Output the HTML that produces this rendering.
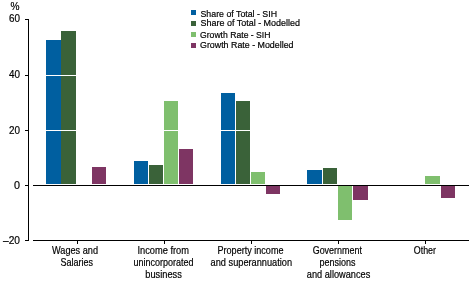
<!DOCTYPE html>
<html><head><meta charset="utf-8">
<style>
html,body{margin:0;padding:0;background:#fff;width:472px;height:283px;overflow:hidden}
svg{position:absolute;left:0;top:0;display:block;will-change:transform}
text{font-family:"Liberation Sans",sans-serif;fill:#000;stroke:#000;stroke-width:0.2}
</style></head><body>
<svg width="472" height="283" viewBox="0 0 472 283">
<g shape-rendering="crispEdges">
<!-- bars -->
<g fill="#005FA0">
<rect x="46" y="40" width="15" height="144"/>
<rect x="134" y="161" width="14" height="23"/>
<rect x="221" y="93" width="14" height="91"/>
<rect x="307" y="170" width="15" height="14"/>
</g>
<g fill="#3A6239">
<rect x="61" y="31" width="15" height="153"/>
<rect x="149" y="165" width="14" height="19"/>
<rect x="236" y="101" width="14" height="83"/>
<rect x="323" y="168" width="14" height="16"/>
</g>
<g fill="#7FBF6E">
<rect x="164" y="101" width="14" height="83"/>
<rect x="251" y="172" width="14" height="12"/>
<rect x="338" y="186" width="14" height="34"/>
<rect x="425" y="176" width="15" height="8"/>
</g>
<g fill="#7E3563">
<rect x="92" y="167" width="14" height="17"/>
<rect x="179" y="149" width="14" height="35"/>
<rect x="266" y="186" width="14" height="8"/>
<rect x="353" y="186" width="15" height="14"/>
<rect x="441" y="186" width="14" height="12"/>
</g>
<!-- white gridlines -->
<rect x="33" y="75" width="436" height="1" fill="#fff"/>
<rect x="33" y="130" width="436" height="1" fill="#fff"/>
<!-- axes -->
<g fill="#000">
<rect x="28" y="19" width="1" height="222"/>
<rect x="25" y="19" width="4" height="1"/>
<rect x="25" y="75" width="4" height="1"/>
<rect x="25" y="130" width="4" height="1"/>
<rect x="25" y="185" width="4" height="1"/>
<rect x="25" y="240" width="4" height="1"/>
<rect x="33" y="185" width="436" height="1"/>
<rect x="33" y="240" width="436" height="1"/>
<rect x="77" y="241" width="1" height="3"/>
<rect x="164" y="241" width="1" height="3"/>
<rect x="251" y="241" width="1" height="3"/>
<rect x="338" y="241" width="1" height="3"/>
<rect x="425" y="241" width="1" height="3"/>
</g>
<!-- legend squares -->
<rect x="191" y="10" width="5" height="5" fill="#005FA0"/>
<rect x="191" y="21" width="5" height="5" fill="#3A6239"/>
<rect x="191" y="32" width="5" height="5" fill="#7FBF6E"/>
<rect x="191" y="43" width="5" height="5" fill="#7E3563"/>
</g>
<!-- y labels -->
<g font-size="11" text-anchor="end">
<text x="19.5" y="10" textLength="9" lengthAdjust="spacingAndGlyphs">%</text>
<text x="20" y="22" textLength="11" lengthAdjust="spacingAndGlyphs">60</text>
<text x="20" y="78" textLength="11" lengthAdjust="spacingAndGlyphs">40</text>
<text x="20" y="134" textLength="11" lengthAdjust="spacingAndGlyphs">20</text>
<text x="20" y="189" textLength="6" lengthAdjust="spacingAndGlyphs">0</text>
<text x="20" y="244" textLength="17" lengthAdjust="spacingAndGlyphs">–20</text>
</g>
<!-- legend text -->
<g font-size="9.3">
<text x="200.5" y="16.6" textLength="76.5" lengthAdjust="spacingAndGlyphs">Share of Total - SIH</text>
<text x="200.5" y="26.4" textLength="99.5" lengthAdjust="spacingAndGlyphs">Share of Total - Modelled</text>
<text x="200" y="37.5" textLength="70.5" lengthAdjust="spacingAndGlyphs">Growth Rate - SIH</text>
<text x="200" y="48.3" textLength="93.5" lengthAdjust="spacingAndGlyphs">Growth Rate - Modelled</text>
</g>
<!-- category labels -->
<g font-size="11">
<text x="52" y="254" textLength="46" lengthAdjust="spacingAndGlyphs">Wages and</text>
<text x="60.5" y="265.5" textLength="32.5" lengthAdjust="spacingAndGlyphs">Salaries</text>
<text x="137.5" y="254" textLength="51.5" lengthAdjust="spacingAndGlyphs">Income from</text>
<text x="133.5" y="265.5" textLength="60" lengthAdjust="spacingAndGlyphs">unincorporated</text>
<text x="145.3" y="277.5" textLength="36.5" lengthAdjust="spacingAndGlyphs">business</text>
<text x="217.5" y="254" textLength="66" lengthAdjust="spacingAndGlyphs">Property income</text>
<text x="210.6" y="265.5" textLength="81.5" lengthAdjust="spacingAndGlyphs">and superannuation</text>
<text x="312.7" y="254" textLength="49.2" lengthAdjust="spacingAndGlyphs">Government</text>
<text x="319.5" y="265.5" textLength="36" lengthAdjust="spacingAndGlyphs">pensions</text>
<text x="306.8" y="277.5" textLength="63.5" lengthAdjust="spacingAndGlyphs">and allowances</text>
<text x="413.8" y="254" textLength="22.2" lengthAdjust="spacingAndGlyphs">Other</text>
</g>
</svg>
</body></html>
